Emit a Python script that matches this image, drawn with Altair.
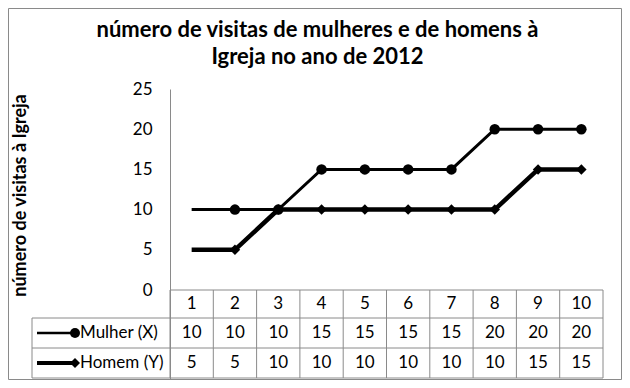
import altair as alt
import pandas as pd

# ---- data ----
categories = [1, 2, 3, 4, 5, 6, 7, 8, 9, 10]
mulher = [10, 10, 10, 15, 15, 15, 15, 20, 20, 20]
homem = [5, 5, 10, 10, 10, 10, 10, 10, 15, 15]
series = ["Mulher (X)", "Homem (Y)"]
y_ticks = [0, 5, 10, 15, 20, 25]
title_lines = ["número de visitas de mulheres e de homens à", "Igreja no ano de 2012"]
y_title = "número de visitas à Igreja"

# ---- layout constants (pixels) ----
COL_PX = 43.3          # width of one category column
LEG_PX = 138           # width of the legend column of the data table
W, H = 571, 290        # plot area (includes the data table)
PX_PER_UNIT = 8.04     # vertical pixels per value unit
ROW_PX = [0, 28, 58, 88]   # table row edges below the zero line
PAD = {"left": 24, "top": 81, "right": 19, "bottom": 1}

X_MIN = 0.5 - LEG_PX / COL_PX
X_MAX = len(categories) + 0.5
Y_MAX = 25
Y_MIN = Y_MAX - H / PX_PER_UNIT
row_edges = [-p / PX_PER_UNIT for p in ROW_PX]
row_mid = [(row_edges[i] + row_edges[i + 1]) / 2 for i in range(3)]

FONT = "Lato"
GRID = "#8a8a8a"
TXT = 17

xs = alt.Scale(domain=[X_MIN, X_MAX], nice=False, zero=False)
ys = alt.Scale(domain=[Y_MIN, Y_MAX], nice=False, zero=False)

# ---- series data ----
df = pd.DataFrame({
    "cat": categories * 2,
    "value": mulher + homem,
    "serie": [series[0]] * len(categories) + [series[1]] * len(categories),
})

base = alt.Chart(df).encode(
    x=alt.X("cat:Q", scale=xs, axis=None),
    y=alt.Y("value:Q", scale=ys, axis=alt.Axis(
        values=y_ticks, offset=-LEG_PX, ticks=False, grid=False,
        domainColor=GRID, domainWidth=1, labelPadding=18,
        labelFont=FONT, labelFontSize=TXT, labelColor="black",
        title=y_title, titleFont=FONT, titleFontSize=18, titleFontWeight="bold",
        titleColor="black", titleAngle=270, titleAlign="center",
        titleBaseline="middle", titleX=-150, titleY=106, titleLimit=400)),
)

line_m = base.transform_filter(alt.datum.serie == series[0]).mark_line(
    color="black", strokeWidth=3)
line_h = base.transform_filter(alt.datum.serie == series[1]).mark_line(
    color="black", strokeWidth=4.5)
pts_m = base.transform_filter(
    (alt.datum.serie == series[0]) & (alt.datum.cat > 1)).mark_point(
    shape="circle", filled=True, size=110, color="black", opacity=1)
pts_h = base.transform_filter(
    (alt.datum.serie == series[1]) & (alt.datum.cat > 1)).mark_point(
    shape="diamond", filled=True, size=110, color="black", opacity=1)

# ---- data table grid ----
h_rows = [{"x": 0.5, "x2": X_MAX, "y": row_edges[0]}] + [
    {"x": X_MIN, "x2": X_MAX, "y": r} for r in row_edges[1:]]
v_rows = [{"x": c - 0.5, "y": row_edges[0], "y2": row_edges[3]} for c in categories] + [
    {"x": X_MAX, "y": row_edges[0], "y2": row_edges[3]},
    {"x": X_MIN, "y": row_edges[1], "y2": row_edges[3]},
]
hgrid = alt.Chart(pd.DataFrame(h_rows)).mark_rule(color=GRID, strokeWidth=1).encode(
    x=alt.X("x:Q", scale=xs, axis=None), x2="x2:Q",
    y=alt.Y("y:Q", scale=ys))
vgrid = alt.Chart(pd.DataFrame(v_rows)).mark_rule(color=GRID, strokeWidth=1).encode(
    x=alt.X("x:Q", scale=xs, axis=None),
    y=alt.Y("y:Q", scale=ys), y2="y2:Q")

# ---- data table texts ----
cells = [{"cat": c, "row": row_mid[0], "txt": str(c)} for c in categories]
cells += [{"cat": c, "row": row_mid[1], "txt": str(v)} for c, v in zip(categories, mulher)]
cells += [{"cat": c, "row": row_mid[2], "txt": str(v)} for c, v in zip(categories, homem)]
cell_text = alt.Chart(pd.DataFrame(cells)).mark_text(
    font=FONT, fontSize=TXT, color="black", align="center", baseline="middle").encode(
    x=alt.X("cat:Q", scale=xs, axis=None),
    y=alt.Y("row:Q", scale=ys), text="txt:N")

# ---- legend keys inside the table ----
LBL_X = X_MIN + 48 / COL_PX
KEY_X1 = X_MIN + 5 / COL_PX
KEY_X2 = X_MIN + 43 / COL_PX
leg = pd.DataFrame({
    "serie": series, "row": row_mid[1:],
    "lx": [LBL_X] * 2, "k1": [KEY_X1] * 2, "k2": [KEY_X2] * 2,
})
leg_text = alt.Chart(leg).mark_text(
    font=FONT, fontSize=TXT, color="black", align="left", baseline="middle").encode(
    x=alt.X("lx:Q", scale=xs, axis=None),
    y=alt.Y("row:Q", scale=ys), text="serie:N")
leg_line_m = alt.Chart(leg).transform_filter(alt.datum.serie == series[0]).mark_rule(
    color="black", strokeWidth=2.5).encode(
    x=alt.X("k1:Q", scale=xs, axis=None), x2="k2:Q",
    y=alt.Y("row:Q", scale=ys))
leg_line_h = alt.Chart(leg).transform_filter(alt.datum.serie == series[1]).mark_rule(
    color="black", strokeWidth=4).encode(
    x=alt.X("k1:Q", scale=xs, axis=None), x2="k2:Q",
    y=alt.Y("row:Q", scale=ys))
leg_pt_m = alt.Chart(leg).transform_filter(alt.datum.serie == series[0]).mark_point(
    shape="circle", filled=True, size=100, color="black", opacity=1).encode(
    x=alt.X("k2:Q", scale=xs, axis=None), y=alt.Y("row:Q", scale=ys))
leg_pt_h = alt.Chart(leg).transform_filter(alt.datum.serie == series[1]).mark_point(
    shape="diamond", filled=True, size=100, color="black", opacity=1).encode(
    x=alt.X("k2:Q", scale=xs, axis=None), y=alt.Y("row:Q", scale=ys))

# ---- decorative chart-area frame (spans the whole drawing surface) ----
frame = alt.Chart(pd.DataFrame({"f": [0]})).mark_rect(
    fill=None, stroke=GRID, strokeWidth=1).encode(
    x=alt.value(-PAD["left"] + 0.5), x2=alt.value(W + PAD["right"] - 0.5),
    y=alt.value(-PAD["top"] + 0.5), y2=alt.value(H + PAD["bottom"] - 0.5))

chart = alt.layer(
    line_m, line_h, pts_m, pts_h, hgrid, vgrid, cell_text,
    leg_text, leg_line_m, leg_line_h, leg_pt_m, leg_pt_h, frame,
).properties(
    width=W, height=H,
    title=alt.TitleParams(
        text=title_lines, font=FONT, fontSize=22, fontWeight="bold",
        color="black", anchor="middle", lineHeight=27, offset=10, dy=71),
    autosize=alt.AutoSizeParams(type="none"),
    padding=PAD,
).configure(background="white").configure_view(stroke=None)

chart.save("out.html", embed_options={"renderer": "svg", "actions": False})
